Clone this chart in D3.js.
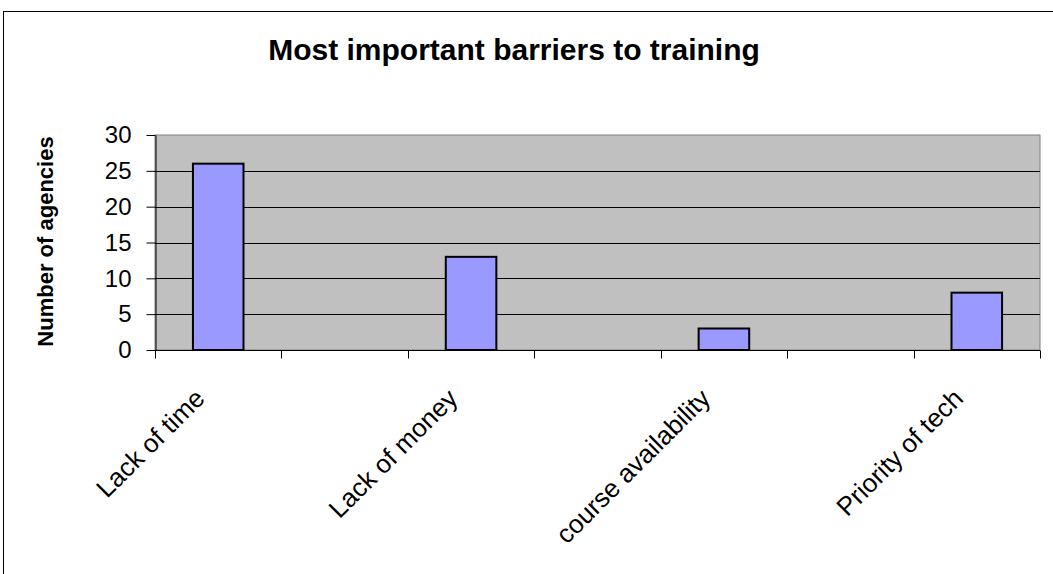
<!DOCTYPE html>
<html>
<head>
<meta charset="utf-8">
<script src="https://cdn.jsdelivr.net/npm/d3@7"></script>
<style>
  html, body { margin: 0; padding: 0; background: #fff; }
  svg { display: block; font-family: "Liberation Sans", Arial, sans-serif; }
</style>
</head>
<body>
<svg id="chart" width="1053" height="574"></svg>
<script>
// Category slots: labelled barriers alternate with unlabelled spacer slots
const categories = ["Lack of time", "", "Lack of money", "", "course availability", "", "Priority of tech"];
const agencies = [26, null, 13, null, 3, null, 8];
const yTicks = [0, 5, 10, 15, 20, 25, 30];
const chartTitle = "Most important barriers to training";
const yTitle = "Number of agencies";

const svg = d3.select("#chart");
const plot = { left: 155, right: 1040, top: 135, bottom: 350 };

// Outer chart frame
svg.append("rect")
  .attr("x", 3.5).attr("y", 11.5)
  .attr("width", 1100).attr("height", 700)
  .attr("fill", "#fff").attr("stroke", "#000").attr("stroke-width", 1);

const x = d3.scaleBand()
  .domain(d3.range(categories.length))
  .range([plot.left, plot.right])
  .paddingInner(0).paddingOuter(0);

const y = d3.scaleLinear().domain([0, 30]).range([plot.bottom, plot.top]);

// Plot area background
svg.append("rect")
  .attr("x", plot.left).attr("y", plot.top)
  .attr("width", plot.right - plot.left).attr("height", plot.bottom - plot.top)
  .attr("fill", "#c0c0c0").attr("stroke", "#808080").attr("stroke-width", 1);

// Horizontal gridlines
svg.append("g").selectAll("line")
  .data(yTicks.filter(t => t > 0 && t < 30))
  .join("line")
  .attr("x1", plot.left).attr("x2", plot.right)
  .attr("y1", d => Math.round(y(d)) + 0.5).attr("y2", d => Math.round(y(d)) + 0.5)
  .attr("stroke", "#000").attr("stroke-width", 1);

// Bars
const bw = x.bandwidth() / 2.5;
svg.append("g").selectAll("rect")
  .data(agencies.map((v, i) => ({ v, i })).filter(d => d.v != null))
  .join("rect")
  .attr("x", d => x(d.i) + (x.bandwidth() - bw) / 2)
  .attr("y", d => y(d.v))
  .attr("width", bw)
  .attr("height", d => y(0) - y(d.v))
  .attr("fill", "#9999ff").attr("stroke", "#000").attr("stroke-width", 2);

// Y axis
const yAxis = svg.append("g")
  .attr("transform", `translate(${plot.left + 0.5},0)`)
  .call(d3.axisLeft(y).tickValues(yTicks).tickSize(9).tickPadding(15).tickSizeOuter(0));
yAxis.select(".domain").attr("stroke", "#000");
yAxis.selectAll(".tick line").attr("stroke", "#000");
yAxis.selectAll(".tick text")
  .attr("font-size", 24).attr("fill", "#000")
  .attr("font-family", "Liberation Sans, Arial, sans-serif");

// X axis with ticks on slot boundaries
const xAxis = svg.append("g").attr("transform", `translate(0,${plot.bottom + 0.5})`);
xAxis.append("line")
  .attr("x1", plot.left).attr("x2", plot.right)
  .attr("stroke", "#000");
const bounds = d3.range(categories.length + 1).map(i => plot.left + i * x.step());
xAxis.selectAll("line.tk")
  .data(bounds)
  .join("line").attr("class", "tk")
  .attr("x1", d => Math.round(d) + 0.5).attr("x2", d => Math.round(d) + 0.5)
  .attr("y1", 0).attr("y2", 8)
  .attr("stroke", "#000");

// Rotated category labels
svg.append("g").selectAll("text")
  .data(categories.map((c, i) => ({ c, i })).filter(d => d.c))
  .join("text")
  .attr("transform", d => `translate(${x(d.i) + x.bandwidth() / 2 - 12},${plot.bottom + 50}) rotate(-45)`)
  .attr("text-anchor", "end")
  .attr("font-size", 26).attr("fill", "#000")
  .text(d => d.c);

// Chart title
svg.append("text")
  .attr("x", 514).attr("y", 60)
  .attr("text-anchor", "middle")
  .attr("font-size", 30).attr("font-weight", "bold")
  .text(chartTitle);

// Y axis title
svg.append("text")
  .attr("transform", `translate(52.5,${(plot.top + plot.bottom) / 2 - 1}) rotate(-90)`)
  .attr("text-anchor", "middle")
  .attr("font-size", 22).attr("font-weight", "bold")
  .text(yTitle);
</script>
</body>
</html>
